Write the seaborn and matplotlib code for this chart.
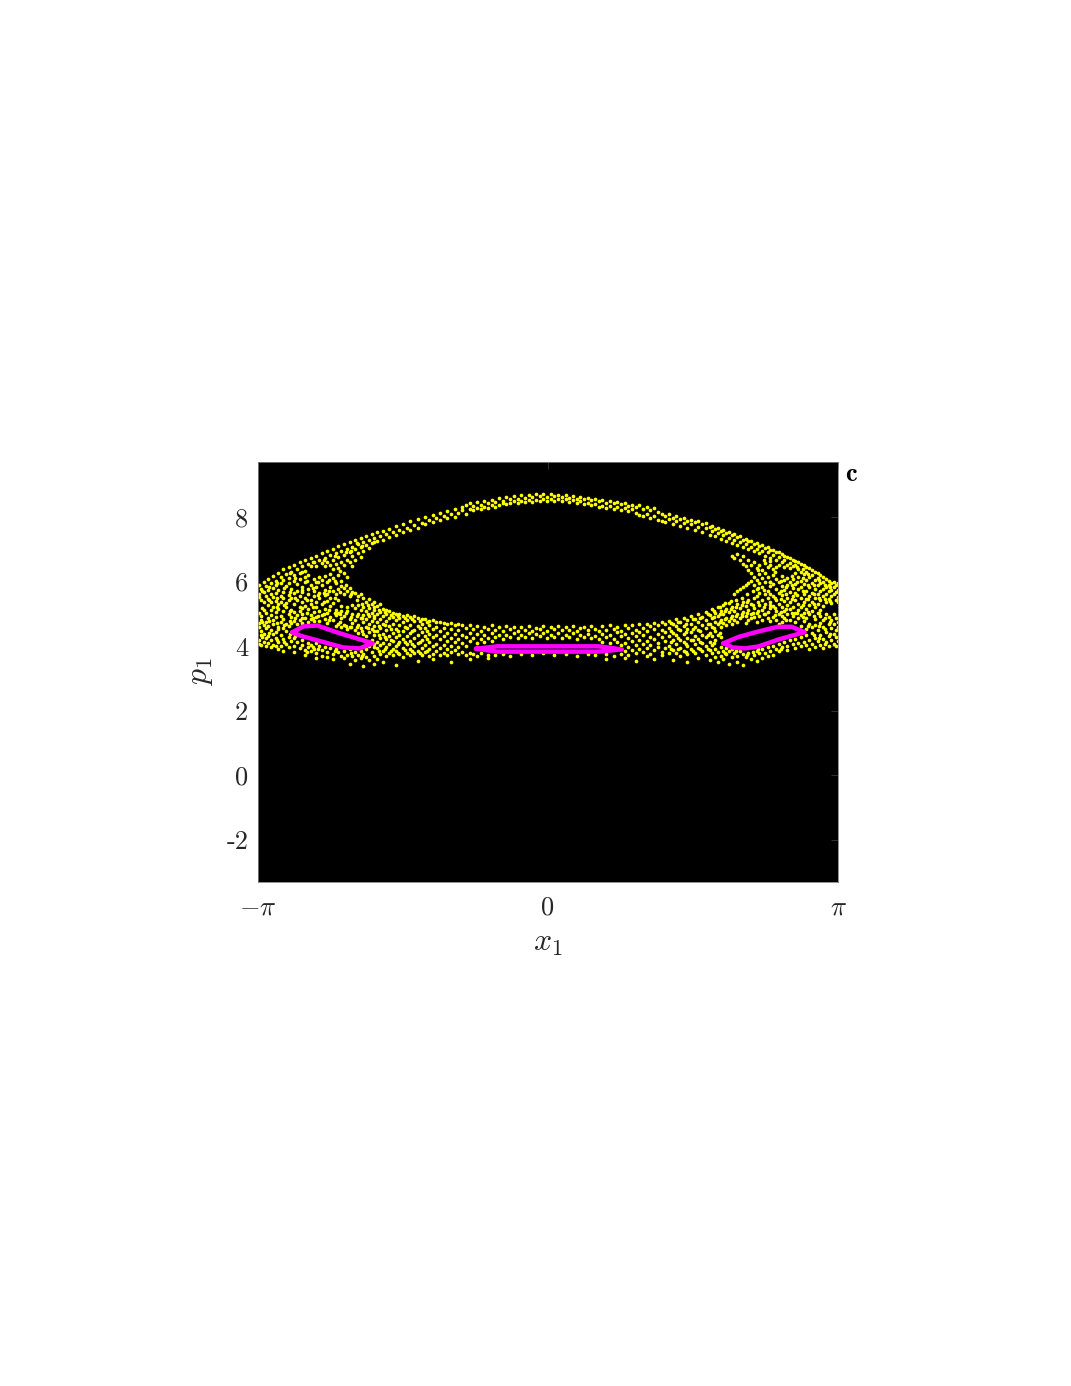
#!/usr/bin/env python3
"""Phase-space section: chaotic sea (yellow) with three period-3 islands (magenta)."""

import pandas as pd
import seaborn as sns
import matplotlib as mpl
import matplotlib.pyplot as plt

# —— DATA: yellow points, (x, [p values]) per column —— #
sea_left = [
    (-3.13, [5.9, 5.62, 5.51, 5.03, 4.71, 4.58, 4.2, 4.07]),
    (-3.11, [5.77, 5.42, 4.93, 4.82, 4.47, 4.33, 4.03]),
    (-3.08, [5.98, 5.69, 5.36, 5.12, 4.66, 4.39, 4.13]),
    (-3.06, [5.86, 5.55, 5.02, 4.76, 4.55, 4.25, 4.0]),
    (-3.03, [6.07, 5.73, 5.47, 5.28, 4.88, 4.62, 4.3, 4.09]),
    (-3.0, [5.95, 5.6, 5.36, 5.13, 4.97, 4.5, 4.19, 3.97]),
    (-2.98, [6.16, 5.81, 5.52, 5.22, 4.8, 4.68, 4.37, 4.05]),
    (-2.95, [6.02, 5.88, 5.65, 5.41, 5.05, 4.89, 4.44, 4.26, 4.0]),
    (-2.92, [6.27, 5.74, 5.3, 5.16, 4.6, 4.52, 4.12, 3.92]),
    (-2.89, [6.14, 5.97, 5.55, 5.38, 4.94, 4.76, 4.33, 4.02]),
    (-2.87, [6.39, 6.05, 5.67, 5.48, 5.1, 4.84, 4.57, 4.21, 3.86]),
    (-2.84, [6.23, 5.86, 5.33, 5.21, 4.7, 4.46, 4.08]),
    (-2.81, [6.44, 6.12, 5.95, 5.59, 5.42, 5.0, 4.62, 4.27, 3.96]),
    (-2.78, [6.31, 5.78, 5.5, 5.13, 4.89, 4.73, 4.16]),
    (-2.75, [6.52, 6.2, 6.03, 5.63, 5.3, 5.06, 4.79, 4.25, 4.02, 3.82]),
    (-2.72, [6.38, 5.91, 5.72, 5.44, 4.95, 4.68, 4.12]),
    (-2.69, [6.6, 6.26, 6.08, 5.56, 5.22, 5.1, 4.82, 3.94]),
    (-2.66, [6.47, 5.83, 5.67, 5.36, 4.99, 4.72, 4.18, 4.04]),
    (-2.63, [6.67, 6.34, 6.13, 5.98, 5.5, 5.25, 4.87, 3.88, 3.73]),
    (-2.6, [6.54, 6.2, 5.76, 5.6, 5.14, 4.76, 4.11, 3.97]),
    (-2.57, [6.74, 6.49, 5.9, 5.42, 5.31, 4.95, 4.83, 4.05, 3.84]),
    (-2.54, [6.61, 6.08, 5.7, 5.54, 5.05, 4.77, 3.91]),
    (-2.51, [6.8, 6.47, 5.99, 5.83, 5.37, 5.2, 4.89, 4.1, 3.78, 3.63]),
    (-2.48, [6.68, 6.15, 5.65, 5.48, 5.1, 4.78, 4.0]),
    (-2.45, [6.88, 6.56, 6.05, 5.9, 5.29, 4.97, 3.87, 3.71]),
    (-2.42, [6.73, 6.47, 6.18, 5.75, 5.57, 5.16, 4.84, 3.98]),
    (-2.39, [6.95, 6.6, 6.0, 5.62, 5.4, 5.04, 4.72, 3.82, 3.66]),
    (-2.36, [6.82, 6.52, 6.22, 5.84, 5.5, 5.24, 4.9, 3.93]),
    (-2.33, [7.02, 6.67, 6.38, 6.1, 5.7, 5.33, 4.8, 3.77, 3.6]),
    (-2.3, [6.88, 6.55, 5.94, 5.6, 5.12, 4.96, 4.63, 3.9]),
    (-2.27, [7.1, 6.76, 6.42, 6.2, 5.76, 5.44, 5.02, 4.7, 3.83]),
    (-2.24, [6.96, 6.62, 6.03, 5.87, 5.24, 5.1, 4.86, 4.58, 3.7]),
    (-2.21, [7.17, 6.81, 6.5, 6.26, 5.8, 5.62, 4.94, 4.66, 3.86, 3.62]),
    (-2.18, [7.02, 6.68, 6.15, 5.72, 5.22, 5.08, 4.52, 3.74]),
    (-2.15, [7.22, 6.91, 6.6, 5.79, 5.55, 4.85, 4.6, 3.9, 3.45]),
    (-2.12, [7.08, 6.78, 6.47, 5.68, 5.26, 4.98, 4.72, 3.68]),
    (-2.09, [7.29, 7.0, 6.66, 5.63, 5.17, 4.82, 4.5, 3.82, 3.56]),
    (-2.06, [7.15, 6.87, 5.54, 5.28, 5.0, 4.66, 4.42, 3.72]),
    (-2.03, [7.36, 7.07, 6.75, 5.6, 5.12, 4.88, 4.55, 3.86, 3.62]),
    (-2.0, [7.22, 6.96, 5.48, 5.22, 4.96, 4.74, 4.38, 3.76, 3.38]),
    (-1.97, [7.42, 7.12, 5.38, 5.08, 4.84, 4.6, 4.3, 3.9, 3.66]),
    (-1.94, [7.3, 7.03, 5.45, 5.18, 4.92, 4.68, 4.44, 4.02, 3.58]),
    (-1.91, [7.47, 7.18, 5.3, 5.02, 4.77, 4.52, 4.2, 3.82]),
    (-1.88, [7.36, 7.22, 5.36, 5.12, 4.88, 4.62, 4.34, 4.08, 3.7, 3.44]),
    (-1.85, [7.53, 7.27, 5.24, 4.98, 4.74, 4.46, 4.14, 3.94, 3.61]),
    (-1.82, [7.42, 5.3, 5.06, 4.83, 4.56, 4.26, 4.03, 3.77]),
    (-1.79, [7.57, 7.3, 5.16, 4.93, 4.68, 4.37, 4.1, 3.86, 3.52]),
    (-1.75, [7.47, 5.12, 5.0, 4.78, 4.5, 4.22, 3.97, 3.68]),
    (-1.72, [7.63, 7.37, 5.08, 4.86, 4.61, 4.32, 4.07, 3.8]),
    (-1.68, [7.53, 5.03, 4.9, 4.7, 4.42, 4.16, 3.9, 3.72]),
    (-1.65, [7.71, 7.45, 5.0, 4.8, 4.54, 4.28, 4.0, 3.84, 3.42]),
    (-1.61, [7.6, 4.98, 4.87, 4.64, 4.36, 4.12, 3.76]),
    (-1.57, [7.77, 7.52, 4.94, 4.74, 4.47, 4.22, 3.95, 3.66]),
    (-1.53, [7.66, 4.96, 4.82, 4.57, 4.3, 4.06, 3.8]),
    (-1.49, [7.86, 7.6, 4.9, 4.66, 4.4, 4.17, 3.9, 3.72]),
    (-1.45, [7.75, 4.92, 4.78, 4.51, 4.25, 4.0, 3.78]),
    (-1.41, [7.93, 7.67, 4.87, 4.62, 4.36, 4.1, 3.86, 3.55]),
    (-1.37, [7.82, 4.83, 4.7, 4.44, 4.2, 3.94, 3.74]),
    (-1.33, [8.0, 7.78, 4.85, 4.56, 4.3, 4.04, 3.82]),
    (-1.29, [7.9, 4.79, 4.66, 4.38, 4.14, 3.9, 3.7]),
    (-1.25, [8.06, 7.84, 4.8, 4.52, 4.27, 3.99, 3.77, 3.6]),
    (-1.21, [7.98, 4.74, 4.6, 4.34, 4.08, 3.85]),
    (-1.17, [8.12, 7.9, 4.76, 4.48, 4.22, 3.95, 3.72]),
    (-1.13, [8.03, 4.72, 4.56, 4.3, 4.05, 3.8]),
    (-1.09, [8.17, 7.98, 4.68, 4.42, 4.17, 3.91, 3.74]),
    (-1.05, [8.09, 4.71, 4.52, 4.26, 4.0, 3.82, 3.5]),
    (-1.01, [8.24, 8.0, 4.65, 4.37, 4.12, 3.88]),
    (-0.97, [8.13, 4.69, 4.5, 4.23, 3.96, 3.76]),
    (-0.93, [8.3, 8.22, 4.64, 4.34, 4.09, 3.83]),
    (-0.89, [8.37, 8.08, 4.56, 4.28, 4.02, 3.72]),
    (-0.85, [8.24, 8.43, 4.66, 4.4, 4.15, 3.79, 3.6]),
]

sea_centre = [
    (-0.81, [8.35, 8.2, 4.52, 4.26, 3.76]),
    (-0.77, [8.46, 8.28, 4.63, 4.37, 4.1, 3.71]),
    (-0.73, [8.38, 8.24, 4.48, 4.22, 3.78]),
    (-0.69, [8.5, 8.3, 4.6, 4.33, 4.12]),
    (-0.65, [8.42, 8.29, 4.54, 4.25, 3.74, 3.62]),
    (-0.61, [8.53, 8.36, 4.64, 4.42, 4.17]),
    (-0.57, [8.46, 8.31, 4.5, 4.28, 3.73]),
    (-0.53, [8.58, 8.38, 4.59, 4.36]),
    (-0.49, [8.5, 8.42, 4.47, 4.22, 3.77]),
    (-0.45, [8.62, 8.4, 4.62, 4.33]),
    (-0.41, [8.54, 8.44, 4.52, 4.27, 3.7]),
    (-0.37, [8.64, 8.48, 4.58, 4.4]),
    (-0.33, [8.56, 8.43, 4.46, 4.24]),
    (-0.29, [8.67, 8.5, 4.6, 4.35, 3.76]),
    (-0.25, [8.59, 8.45, 4.5, 4.28]),
    (-0.21, [8.69, 8.52, 4.63, 4.41]),
    (-0.17, [8.62, 8.47, 4.48, 4.25, 3.72]),
    (-0.13, [8.7, 8.53, 4.57, 4.37]),
    (-0.09, [8.64, 8.49, 4.52, 4.3]),
    (-0.05, [8.71, 8.56, 4.61, 4.42, 3.78]),
    (-0.01, [8.63, 8.5, 4.47, 4.24]),
    (0.03, [8.72, 8.55, 4.6, 4.36]),
    (0.07, [8.66, 8.5, 4.53, 4.29, 3.73]),
    (0.11, [8.69, 8.56, 4.62, 4.4]),
    (0.15, [8.62, 8.48, 4.49, 4.26]),
    (0.19, [8.68, 8.54, 4.58, 4.34, 3.75]),
    (0.23, [8.6, 8.46, 4.51, 4.27]),
    (0.27, [8.65, 8.52, 4.63, 4.41]),
    (0.31, [8.57, 8.43, 4.47, 4.23, 3.7]),
    (0.35, [8.63, 8.48, 4.56, 4.35]),
    (0.39, [8.54, 8.41, 4.6, 4.28]),
    (0.43, [8.6, 8.44, 4.49, 4.38, 3.77]),
    (0.47, [8.52, 8.37, 4.62, 4.25]),
    (0.51, [8.57, 8.4, 4.54, 4.32, 3.72]),
    (0.55, [8.48, 8.32, 4.46, 4.22]),
    (0.59, [8.53, 8.35, 4.61, 4.39, 4.14]),
    (0.63, [8.44, 8.29, 4.5, 4.27, 3.75, 3.6]),
    (0.67, [8.5, 8.33, 4.64, 4.36, 4.1]),
    (0.71, [8.42, 8.25, 4.53, 4.23, 3.71]),
    (0.75, [8.46, 8.3, 4.6, 4.43, 4.14]),
    (0.79, [8.39, 8.21, 4.48, 4.3, 4.05, 3.77]),
]

sea_right = [
    (0.83, [8.44, 8.27, 4.65, 4.37, 4.11, 3.84, 3.63]),
    (0.87, [8.33, 8.18, 4.55, 4.24, 3.98, 3.74]),
    (0.91, [8.38, 8.25, 4.66, 4.41, 4.16, 3.88]),
    (0.95, [8.3, 8.13, 4.51, 4.3, 4.03, 3.78, 3.55]),
    (0.99, [8.36, 8.07, 4.68, 4.44, 4.2, 3.92]),
    (1.03, [8.25, 8.02, 4.57, 4.33, 4.08, 3.82]),
    (1.07, [8.32, 8.1, 4.7, 4.47, 4.15, 3.94, 3.7]),
    (1.11, [8.2, 7.97, 4.62, 4.28, 4.04, 3.77]),
    (1.15, [8.27, 8.04, 4.73, 4.52, 4.22, 3.88, 3.6]),
    (1.19, [8.14, 7.92, 4.66, 4.38, 4.11, 3.96]),
    (1.23, [8.1, 7.87, 4.76, 4.5, 4.27, 3.82, 3.72]),
    (1.27, [8.04, 7.83, 4.7, 4.44, 4.16, 3.93]),
    (1.31, [8.08, 7.94, 4.79, 4.56, 4.32, 4.02, 3.78]),
    (1.35, [7.98, 7.77, 4.68, 4.42, 4.2, 3.87, 3.58]),
    (1.39, [8.03, 7.88, 4.83, 4.61, 4.34, 4.08, 3.8]),
    (1.43, [7.93, 7.72, 4.74, 4.49, 4.18, 3.95, 3.68]),
    (1.47, [7.98, 7.82, 4.87, 4.62, 4.37, 4.12, 3.84]),
    (1.51, [7.88, 7.65, 4.8, 4.54, 4.26, 4.0, 3.75, 3.52]),
    (1.55, [7.92, 7.78, 4.93, 4.7, 4.45, 4.19, 3.9]),
    (1.59, [7.83, 7.59, 4.84, 4.58, 4.3, 4.06, 3.8]),
    (1.63, [7.87, 7.7, 4.98, 4.74, 4.5, 4.22, 3.95, 3.62]),
    (1.67, [7.77, 7.53, 4.9, 4.64, 4.36, 4.1, 3.84]),
    (1.71, [7.8, 7.65, 5.07, 4.82, 4.57, 4.28, 4.0, 3.72]),
    (1.75, [7.7, 7.45, 4.96, 4.68, 4.42, 4.14, 3.88, 3.58]),
    (1.78, [7.73, 7.57, 5.15, 4.88, 4.6, 4.32, 4.04, 3.78]),
    (1.81, [7.63, 7.4, 5.03, 4.76, 4.47, 4.18, 3.92, 3.66]),
    (1.84, [7.66, 7.5, 5.22, 4.94, 4.68, 4.36, 3.83, 3.5]),
    (1.87, [7.56, 7.33, 5.1, 4.82, 4.6, 4.27, 3.96, 3.7]),
    (1.9, [7.6, 7.43, 5.28, 5.0, 4.72, 3.86, 3.6]),
    (1.93, [7.5, 7.25, 5.16, 4.88, 4.66, 3.94, 3.76]),
    (1.96, [7.53, 7.36, 5.34, 5.06, 4.78, 3.84, 3.46]),
    (1.99, [7.45, 7.2, 6.8, 5.22, 4.94, 4.7, 3.9, 3.66]),
    (2.02, [7.48, 7.3, 6.72, 5.62, 5.1, 4.82, 3.8]),
    (2.05, [7.38, 7.13, 6.85, 5.7, 5.3, 5.0, 4.76, 3.7, 3.52]),
    (2.08, [7.41, 7.22, 6.66, 5.76, 5.18, 4.88, 3.84]),
    (2.11, [7.3, 7.06, 6.78, 6.55, 5.82, 5.36, 5.05, 3.76, 3.42]),
    (2.14, [7.33, 7.15, 6.47, 5.88, 5.25, 4.93, 4.72, 3.66]),
    (2.17, [7.24, 7.0, 6.68, 6.36, 5.96, 5.44, 5.12, 4.8, 3.8]),
    (2.2, [7.27, 7.08, 6.52, 6.26, 6.02, 5.32, 4.98, 4.86, 3.6]),
    (2.23, [7.16, 6.94, 6.6, 6.14, 5.9, 5.48, 5.17, 4.9, 3.72]),
    (2.26, [7.2, 7.02, 6.42, 6.05, 5.78, 5.56, 5.04, 4.76, 3.86, 3.54]),
    (2.29, [7.1, 6.87, 6.5, 6.22, 5.96, 5.66, 5.26, 4.92, 3.78]),
    (2.32, [7.13, 6.96, 6.35, 6.1, 5.84, 5.42, 5.13, 4.8, 3.9, 3.64]),
    (2.35, [7.04, 6.8, 6.56, 6.26, 5.98, 5.6, 5.3, 4.98, 3.8]),
    (2.38, [7.07, 6.9, 6.44, 6.13, 5.72, 5.48, 5.06, 4.86, 3.96, 3.7]),
    (2.41, [6.98, 6.74, 6.52, 6.0, 5.86, 5.36, 5.18, 4.78, 3.85]),
    (2.44, [6.98, 6.83, 6.38, 6.2, 5.92, 5.54, 5.24, 4.9, 4.02, 3.74]),
    (2.47, [6.9, 6.68, 6.46, 6.08, 5.78, 5.42, 5.1, 4.82, 3.92]),
    (2.5, [6.92, 6.76, 6.5, 5.98, 5.66, 5.3, 5.0, 4.7, 4.08, 3.84]),
    (2.53, [6.84, 6.6, 6.16, 5.85, 5.58, 5.2, 4.94, 4.74, 3.97]),
    (2.56, [6.8, 6.66, 6.46, 6.04, 5.74, 5.4, 5.08, 4.88, 4.14]),
    (2.59, [6.76, 6.52, 6.12, 5.9, 5.5, 5.26, 4.98, 4.02, 3.88]),
    (2.62, [6.73, 6.57, 6.42, 5.98, 5.68, 5.36, 5.14, 4.82, 4.2]),
    (2.65, [6.68, 6.48, 6.08, 5.8, 5.56, 5.22, 4.92, 4.06]),
    (2.68, [6.64, 6.5, 6.26, 5.93, 5.64, 5.44, 5.03, 4.74, 4.22, 3.95]),
    (2.71, [6.6, 6.38, 6.14, 5.76, 5.32, 5.12, 4.86, 4.11]),
    (2.74, [6.54, 6.3, 6.02, 5.84, 5.5, 5.2, 4.96, 4.62, 4.28, 4.0]),
    (2.77, [6.5, 6.22, 5.92, 5.6, 5.38, 5.04, 4.78, 4.14]),
    (2.8, [6.44, 6.28, 6.06, 5.7, 5.46, 5.16, 4.88, 4.52, 4.34, 4.03]),
    (2.83, [6.42, 6.14, 5.82, 5.56, 5.28, 4.98, 4.7, 4.2, 3.9]),
    (2.86, [6.36, 6.2, 5.96, 5.64, 5.38, 5.08, 4.58, 4.42, 4.08]),
    (2.89, [6.3, 6.04, 5.76, 5.5, 5.2, 4.84, 4.64, 4.26, 3.97]),
    (2.92, [6.25, 6.1, 5.88, 5.6, 5.32, 5.02, 4.5, 4.16]),
    (2.95, [6.2, 5.94, 5.7, 5.42, 5.12, 4.92, 4.72, 4.35, 4.04]),
    (2.98, [6.14, 5.98, 5.78, 5.54, 5.24, 4.8, 4.6, 4.22, 3.95]),
    (3.01, [6.08, 5.84, 5.62, 5.36, 5.0, 4.44, 4.12]),
    (3.04, [6.02, 5.9, 5.7, 5.46, 4.9, 4.68, 4.3, 4.02]),
    (3.07, [5.96, 5.75, 5.55, 5.34, 4.82, 4.56, 4.2]),
    (3.1, [5.99, 5.83, 5.62, 4.98, 4.7, 4.38, 4.08]),
    (3.12, [5.9, 5.68, 5.42, 4.88, 4.5, 4.27, 4.0]),
    (3.14, [5.94, 5.74, 5.52, 5.36, 4.76, 4.6, 4.15]),
]

# second pass over the densest parts of the sea
sea_fill = [
    (-3.1, [5.7, 5.18, 4.74, 4.28]), (-3.02, [5.84, 5.44, 4.78, 4.41]),
    (-2.94, [5.97, 5.5, 5.22, 4.72, 4.18]), (-2.86, [5.79, 5.26, 4.64, 4.14]),
    (-2.8, [6.26, 5.68, 5.1, 4.78, 4.38]), (-2.74, [6.12, 5.5, 4.88, 4.32]),
    (-2.67, [6.28, 5.74, 5.18, 4.88]), (-2.61, [6.02, 5.44, 5.04, 3.82]),
    (-2.55, [6.62, 5.8, 5.2, 4.88, 3.96]), (-2.49, [6.0, 5.58, 4.94, 3.9]),
    (-2.43, [6.66, 5.66, 5.38, 5.0]), (-2.37, [6.06, 5.72, 5.12, 4.82]),
    (-2.31, [6.78, 6.02, 5.5, 5.04, 3.84]), (-2.25, [6.32, 5.68, 4.98, 4.76]),
    (-2.19, [6.9, 5.88, 5.02, 4.62]), (-2.13, [6.94, 5.6, 4.9, 4.58, 3.8]),
    (-2.07, [7.2, 5.42, 4.92, 4.6]), (-2.01, [7.1, 5.3, 4.86, 4.48, 3.7]),
    (-1.95, [5.26, 4.98, 4.56, 4.1]), (-1.89, [5.2, 4.94, 4.46, 3.98]),
    (-1.83, [5.12, 4.62, 4.34, 3.84]), (-1.77, [5.06, 4.66, 4.28, 3.92]),
    (-1.7, [4.96, 4.52, 4.2, 3.86]), (-1.63, [4.92, 4.48, 4.08, 3.8]),
    (-1.55, [4.88, 4.6, 4.14, 3.88]), (-1.47, [4.84, 4.46, 4.06, 3.84]),
    (-1.39, [4.78, 4.56, 4.12, 3.8]), (-1.31, [4.74, 4.48, 4.22, 3.86]),
    (1.33, [4.72, 4.46, 4.12, 3.9]), (1.41, [4.76, 4.52, 4.24, 3.92]),
    (1.49, [4.7, 4.44, 4.08, 3.82]), (1.57, [4.84, 4.52, 4.2, 3.86]),
    (1.65, [4.88, 4.46, 4.14, 3.9]), (1.73, [4.98, 4.7, 4.36, 3.92]),
    (1.8, [5.1, 4.9, 4.56, 4.1]), (1.86, [5.2, 5.0, 4.74, 4.42]),
    (1.92, [5.34, 5.08, 4.84, 3.8]), (1.98, [5.4, 5.14, 4.86]),
    (2.04, [5.44, 5.22, 4.92, 3.86]), (2.1, [5.5, 5.28, 5.0, 4.94]),
    (2.16, [5.6, 5.36, 5.04, 3.74]), (2.22, [5.7, 5.26, 5.04, 3.82]),
    (2.28, [6.36, 5.8, 5.38, 5.1, 3.92]), (2.34, [6.68, 5.74, 5.2, 5.0]),
    (2.4, [6.64, 5.98, 5.62, 5.26]), (2.46, [6.3, 5.5, 5.18, 4.96]),
    (2.52, [6.02, 5.72, 5.46, 5.06, 3.92]), (2.58, [5.82, 5.62, 5.16, 4.82]),
    (2.64, [6.18, 5.9, 5.46, 5.04]), (2.7, [6.46, 5.98, 5.58, 5.02]),
    (2.76, [6.38, 6.1, 5.72, 5.28, 4.9]), (2.82, [6.22, 5.9, 5.46, 5.06, 4.62]),
    (2.88, [5.88, 5.6, 5.3, 4.92, 4.34]), (2.94, [6.04, 5.5, 5.04, 4.62, 4.26]),
    (3.0, [5.9, 5.46, 4.86, 4.52, 4.06]), (3.06, [5.84, 5.4, 4.76, 4.38]),
]

# magenta island outlines
island_left_x = [-2.77, -2.65, -2.5, -2.29, -1.9, -2.04, -2.22, -2.5, -2.69, -2.77]
island_left_p = [4.43, 4.61, 4.64, 4.43, 4.09, 3.93, 3.96, 4.18, 4.33, 4.43]
island_mid_x = [-0.78, -0.55, 0.0, 0.55, 0.8, 0.55, 0.0, -0.55, -0.78]
island_mid_p = [3.92, 3.995, 3.995, 3.995, 3.9, 3.83, 3.83, 3.83, 3.92]
island_right_x = [1.9, 2.06, 2.26, 2.49, 2.64, 2.78, 2.65, 2.49, 2.28, 2.13, 2.0, 1.9]
island_right_p = [4.09, 4.28, 4.44, 4.6, 4.6, 4.43, 4.33, 4.2, 3.99, 3.93, 3.96, 4.09]

y_ticks = [-2, 0, 2, 4, 6, 8]
y_tick_labels = ['-2', '0', '2', '4', '6', '8']

# —— STYLE —— #
sns.set_theme(style='white')
mpl.rcParams['font.family'] = 'cmr10'
mpl.rcParams['mathtext.fontset'] = 'cm'
mpl.rcParams['axes.unicode_minus'] = False
TEXT = '#262626'
W, H = 1071, 1386

fig = plt.figure(figsize=(W / 100, H / 100), dpi=100)
ax = fig.add_axes([258 / W, 1 - 882 / H, 580 / W, 420 / H])
ax.set_facecolor('black')

# long form table for the scatter
rows = []
for region in (sea_left, sea_centre, sea_right, sea_fill):
    for x, ps in region:
        rows.extend((x, p) for p in ps)
df = pd.DataFrame(rows, columns=['x', 'p'])

sns.scatterplot(data=df, x='x', y='p', color='#ffff00', s=7, linewidth=0,
                ax=ax, zorder=2, legend=False)

for ix, ip in [(island_left_x, island_left_p), (island_mid_x, island_mid_p),
               (island_right_x, island_right_p)]:
    sns.lineplot(x=ix, y=ip, sort=False, estimator=None, color='#ff00ff',
                 linewidth=3.2, ax=ax, zorder=3, legend=False)

ax.set_xlim(-3.1416, 3.1416)
ax.set_ylim(-3.3, 9.7)
ax.set_xticks([-3.1416, 0, 3.1416], [r'$-\pi$', '0', r'$\pi$'])
ax.set_yticks(y_ticks, y_tick_labels)
ax.tick_params(axis='both', direction='in', length=5, width=0.6, color='#3a3a3a',
               top=True, right=True, labelsize=19, labelcolor=TEXT)
ax.tick_params(axis='x', pad=10)
ax.tick_params(axis='y', pad=7)
for side in ax.spines.values():
    side.set_color('#808080')
    side.set_linewidth(0.6)

ax.set_xlabel(r'$x_1$', fontsize=23, color=TEXT, labelpad=8)
ax.set_ylabel(r'$p_1$', fontsize=23, color=TEXT, labelpad=8)
fig.text(845 / W, 1 - 481 / H, 'c', family='cmb10', fontsize=19, color='black')

fig.savefig('out.png', dpi=100)
plt.close(fig)
